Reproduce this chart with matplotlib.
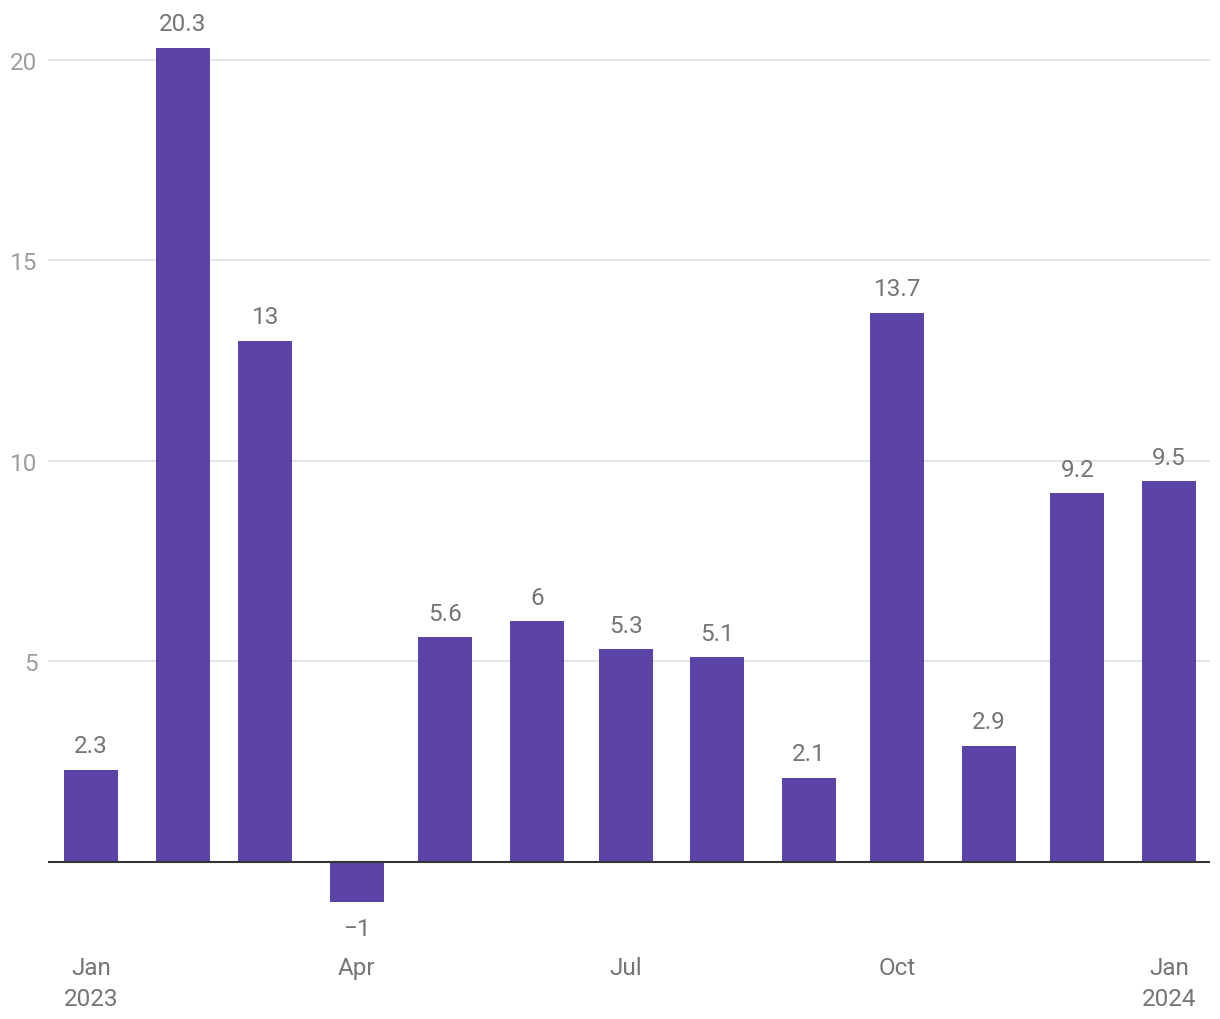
import matplotlib.pyplot as plt
import matplotlib.dates as mdates
import datetime as dt

plt.rcParams['font.family'] = ['Roboto', 'DejaVu Sans']

# monthly values, Jan 2023 - Jan 2024
months = [dt.date(2023, m, 1) for m in range(1, 13)] + [dt.date(2024, 1, 1)]
values = [2.3, 20.3, 13, -1, 5.6, 6, 5.3, 5.1, 2.1, 13.7, 2.9, 9.2, 9.5]
labels = ['2.3', '20.3', '13', '\u22121', '5.6', '6', '5.3', '5.1', '2.1', '13.7', '2.9', '9.2', '9.5']

tick_dates = [dt.date(2023, 1, 1), dt.date(2023, 4, 1), dt.date(2023, 7, 1),
              dt.date(2023, 10, 1), dt.date(2024, 1, 1)]
tick_labels = ['Jan\n2023', 'Apr', 'Jul', 'Oct', 'Jan\n2024']

bar_color = '#5c43a8'
label_color = '#757575'

fig = plt.figure(figsize=(12.2, 10.2), dpi=100, facecolor='white')
ax = fig.add_axes([48 / 1220, 78 / 1020, 1162 / 1220, 930 / 1020])

x = mdates.date2num(months)
ax.bar(x, values, width=18.3, color=bar_color, zorder=3)

for xi, v, lab in zip(x, values, labels):
    if v >= 0:
        ax.annotate(lab, (xi, v), xytext=(0, 9), textcoords='offset points',
                    ha='center', va='bottom', fontsize=17.5, color=label_color)
    else:
        ax.annotate(lab, (xi, v), xytext=(0, -11), textcoords='offset points',
                    ha='center', va='top', fontsize=17.5, color=label_color)

ax.set_xlim(mdates.date2num(dt.date(2023, 1, 1)) - 14.6,
            mdates.date2num(dt.date(2024, 1, 1)) + 13.9)
ax.set_ylim(-1.97, 21.22)

ax.set_yticks([5, 10, 15, 20])
ax.set_yticklabels(['5', '10', '15', '20'])
ax.yaxis.grid(True, color='#e0e0e0', linewidth=1.2, zorder=0)
ax.axhline(0, color='#333333', linewidth=1.5, zorder=4)

ax.set_xticks(mdates.date2num(tick_dates))
ax.set_xticklabels(tick_labels, linespacing=1.45)

ax.tick_params(axis='y', length=0, pad=7.5, labelsize=17.5, labelcolor='#9e9e9e')
ax.tick_params(axis='x', length=0, pad=11, labelsize=17.5, labelcolor=label_color)

for s in ax.spines.values():
    s.set_visible(False)

fig.savefig('out.png', dpi=100, facecolor='white')
